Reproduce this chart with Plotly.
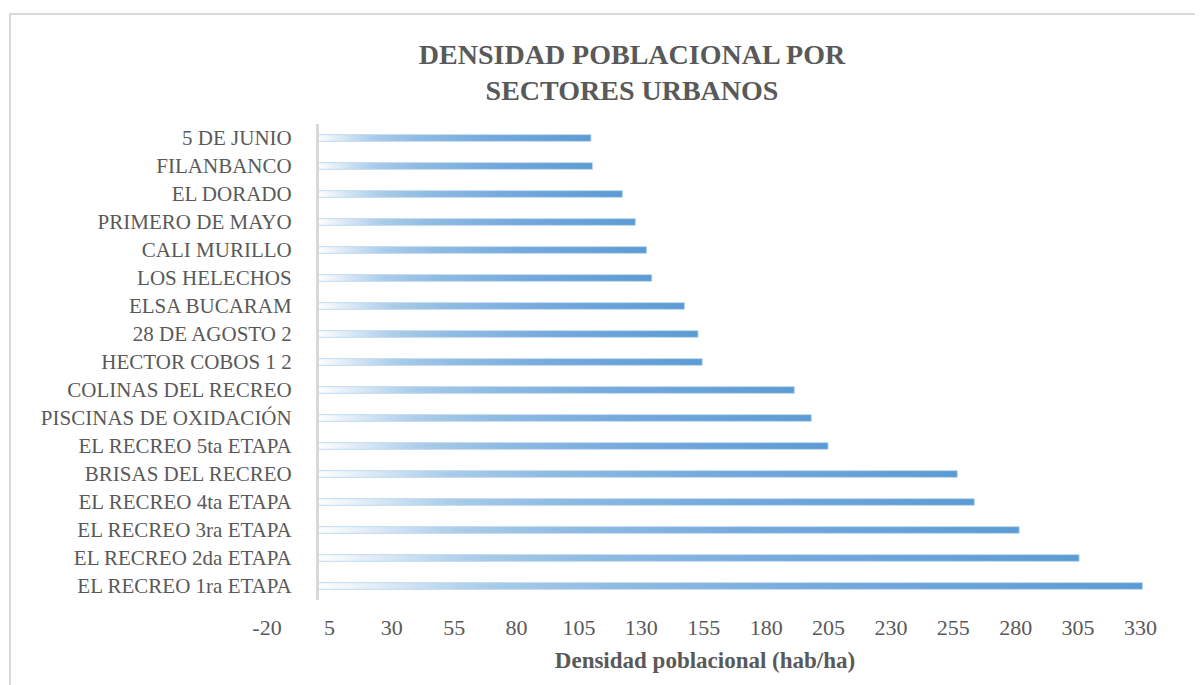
import plotly.graph_objects as go

# Data (bottom to top)
sectores = [
    "EL RECREO 1ra ETAPA", "EL RECREO 2da ETAPA", "EL RECREO 3ra ETAPA",
    "EL RECREO 4ta ETAPA", "BRISAS DEL RECREO", "EL RECREO 5ta ETAPA",
    "PISCINAS DE OXIDACIÓN", "COLINAS DEL RECREO", "HECTOR COBOS 1 2",
    "28 DE AGOSTO 2", "ELSA BUCARAM", "LOS HELECHOS", "CALI MURILLO",
    "PRIMERO DE MAYO", "EL DORADO", "FILANBANCO", "5 DE JUNIO",
]
densidad = [330.8, 305.4, 281.4, 263.4, 256.6, 204.8, 198.1, 191.3, 154.4,
            152.7, 147.3, 134.2, 132.1, 127.6, 122.4, 110.4, 109.8]
x_ticks = [-20, 5, 30, 55, 80, 105, 130, 155, 180, 205, 230, 255, 280, 305, 330]

GRAY = "#595959"
SERIF = "Liberation Serif"
gradient = [[0.0, "#ffffff"], [0.1, "#d5e5f4"], [0.2, "#abcdea"],
            [0.35, "#90bce3"], [0.6, "#76aadc"], [1.0, "#5b9bd5"]]
half = 0.12

fig = go.Figure()
for i, (name, v) in enumerate(zip(sectores, densidad)):
    fig.add_trace(go.Scatter(
        x=[0, v, v, 0, 0],
        y=[i - half, i - half, i + half, i + half, i - half],
        mode="lines", fill="toself",
        line=dict(color="rgba(189,215,238,0.9)", width=1),
        fillgradient=dict(type="horizontal", colorscale=gradient),
        name=name, showlegend=False, hoverinfo="skip",
    ))

# page body adds an 8px offset; figure sized to fill the rest of the window
W, H = 1195, 677
L, R, T, B = 259, 60, 116, 85
pw = W - L - R
ph = H - T - B

fig.update_layout(
    width=W, height=H,
    margin=dict(l=L, r=R, t=T, b=B),
    paper_bgcolor="white", plot_bgcolor="white",
    title=dict(
        text="<b>DENSIDAD POBLACIONAL POR<br>SECTORES URBANOS</b>",
        x=624 / W, xref="container", xanchor="center",
        y=1 - 56 / H, yref="container", yanchor="top",
        font=dict(family=SERIF, size=28, color=GRAY),
    ),
    xaxis=dict(
        range=[-20, 331], tickmode="array", tickvals=x_ticks,
        ticktext=[str(t) for t in x_ticks],
        showgrid=False, zeroline=False, showline=False, ticks="",
        ticklabelstandoff=12,
        tickfont=dict(family=SERIF, size=22, color=GRAY),
        title=dict(text="<b>Densidad poblacional (hab/ha)</b>",
                   font=dict(family=SERIF, size=23, color=GRAY), standoff=12),
    ),
    yaxis=dict(
        range=[-0.5, len(sectores) - 0.5], tickmode="array",
        tickvals=list(range(len(sectores))), ticktext=sectores,
        showgrid=False, zeroline=False,
        showline=True, linecolor="#d9d9d9", linewidth=3,
        anchor="free", position=20 / 351, ticks="",
        ticklabelstandoff=20,
        tickfont=dict(family=SERIF, size=21, color=GRAY),
    ),
    shapes=[dict(
        type="rect", xref="paper", yref="paper",
        x0=(2 - L) / pw, x1=(1260 - L) / pw,
        y0=(T + ph - 720) / ph, y1=(T + ph - 6) / ph,
        line=dict(color="#d9d9d9", width=2), layer="below",
    )],
)

fig.write_html("out.html")
